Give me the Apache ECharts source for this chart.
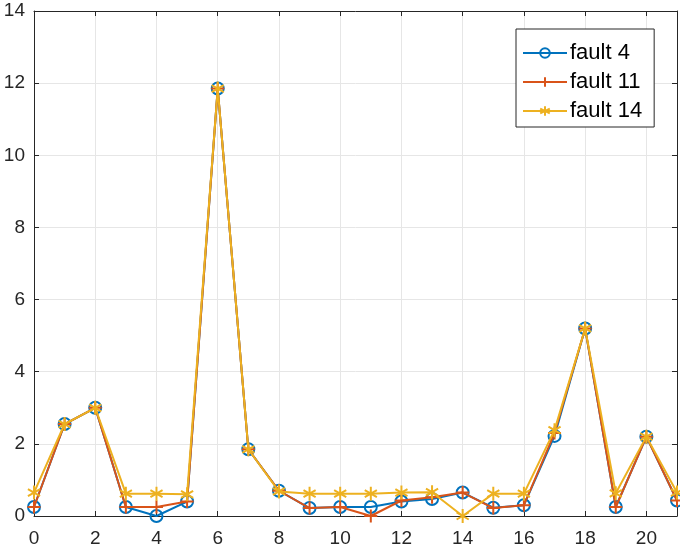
<!DOCTYPE html>
<html><head><meta charset="utf-8">
<script src="https://cdn.jsdelivr.net/npm/echarts@6/dist/echarts.min.js"></script>
<style>html,body{margin:0;padding:0;background:#fff}#c{width:680px;height:554px}</style>
</head><body><div id="c"></div>
<script>
const categories = [0,1,2,3,4,5,6,7,8,9,10,11,12,13,14,15,16,17,18,19,20,21];
const fault4  = [0.25,2.55,3.0,0.25,0.0,0.4,11.85,1.85,0.7,0.22,0.25,0.25,0.4,0.47,0.65,0.23,0.3,2.22,5.2,0.25,2.2,0.43];
const fault11 = [0.25,2.55,3.0,0.25,0.25,0.4,11.85,1.85,0.7,0.22,0.25,0.0,0.43,0.52,0.65,0.22,0.3,2.3,5.2,0.25,2.2,0.43];
const fault14 = [0.65,2.55,3.0,0.62,0.62,0.6,11.85,1.85,0.68,0.62,0.62,0.62,0.65,0.66,0.0,0.62,0.62,2.38,5.2,0.63,2.2,0.65];
const names = ['fault 4','fault 11','fault 14'];
const colors = ['#0072BD','#D95319','#EDB120'];
const symbols = ['circle','path://M-1,0L1,0M0,-1L0,1','path://M0,-1L0,1M-0.866,-0.5L0.866,0.5M-0.866,0.5L0.866,-0.5'];
const sizes = [12,13,14];
const xTicks = [0,2,4,6,8,10,12,14,16,18,20];
const yTicks = [0,2,4,6,8,10,12,14];

const font = 'Liberation Sans, Arial, sans-serif';
const chart = echarts.init(document.getElementById('c'));
function mk(name, data, i){
  return {
    name, type:'line', data: data.map((v,k)=>[categories[k], v]),
    symbol: symbols[i], symbolSize: sizes[i], symbolKeepAspect: true, showAllSymbol: true,
    lineStyle:{color:colors[i], width:2},
    itemStyle:{color: i===0 ? 'rgba(0,0,0,0)' : colors[i], borderColor:colors[i], borderWidth:2},
    emphasis:{disabled:true}, animation:false, z: 2+i
  };
}
const axisCommon = {
  type:'value', min:0, interval:2,
  axisLine:{show:true, onZero:false, lineStyle:{color:'#262626', width:1}},
  axisTick:{show:true, inside:true, length:5, lineStyle:{color:'#262626'}},
};
chart.setOption({
  animation:false,
  grid:{left:34, right:3, top:11, bottom:38, containLabel:false},
  xAxis:[
    Object.assign({}, axisCommon, {max:21, position:'bottom',
      axisLabel:{fontFamily:font, fontSize:19, color:'#262626', margin:13,
        formatter: v => xTicks.includes(v) ? String(v) : ''},
      splitLine:{show:true, lineStyle:{color:'#e6e6e6', width:1}}}),
    Object.assign({}, axisCommon, {max:21, position:'top', axisLabel:{show:false}, splitLine:{show:false}})
  ],
  yAxis:[
    Object.assign({}, axisCommon, {max:14, position:'left',
      axisLabel:{fontFamily:font, fontSize:19, color:'#262626', margin:9,
        formatter: v => yTicks.includes(v) ? String(v) : ''},
      splitLine:{show:true, lineStyle:{color:'#e6e6e6', width:1}}}),
    Object.assign({}, axisCommon, {max:14, position:'right', axisLabel:{show:false}, splitLine:{show:false}})
  ],
  legend:{
    data: names, orient:'vertical', left:516, top:29,
    backgroundColor:'#fff', borderColor:'#262626', borderWidth:1, borderRadius:0,
    padding:[13,12,5,6], itemWidth:44, itemHeight:12, itemGap:7,
    textStyle:{fontFamily:font, fontSize:22, color:'#000', padding:[0,0,0,-2]},
  },
  series:[mk(names[0],fault4,0), mk(names[1],fault11,1), mk(names[2],fault14,2)]
});
</script></body></html>
